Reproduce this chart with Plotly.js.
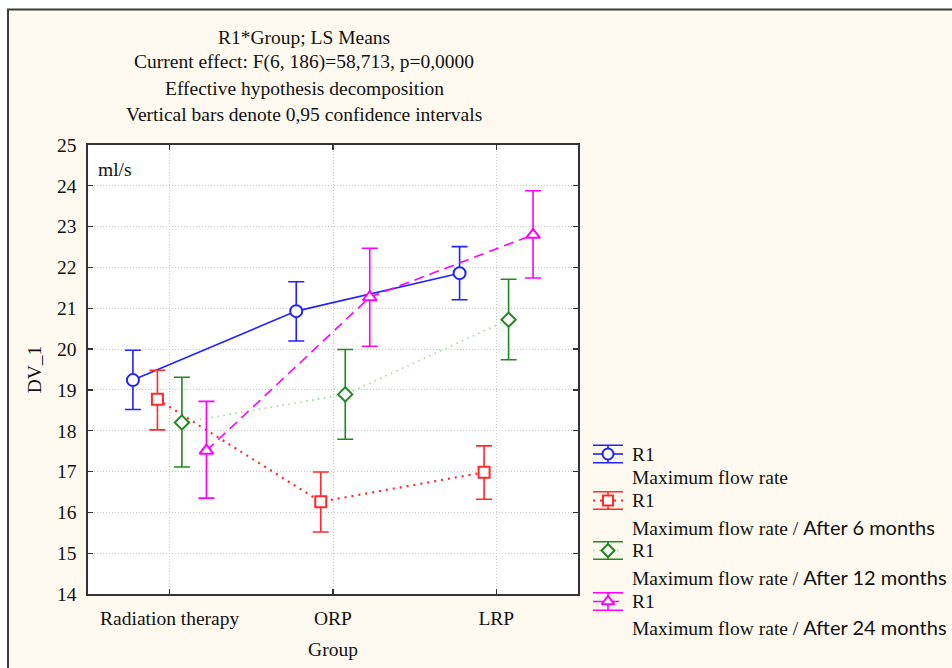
<!DOCTYPE html>
<html>
<head>
<meta charset="utf-8">
<script src="https://cdn.plot.ly/plotly-3.0.1.min.js"></script>
<style>
  html, body { margin: 0; padding: 0; background: #ffffff; }
  #chart { width: 952px; height: 668px; }
</style>
</head>
<body>
<div id="chart"></div>
<script>
// Groups on the x axis
const groups = ['Radiation therapy', 'ORP', 'LRP'];

// LS means with 0,95 confidence limits (ml/s)
const flowMean = [19.24, 20.93, 21.86];
const flowLow  = [18.52, 20.20, 21.21];
const flowHigh = [19.97, 21.65, 22.51];

const m6Mean = [18.77, 16.26, 16.98];
const m6Low  = [18.02, 15.52, 16.32];
const m6High = [19.48, 16.99, 17.63];

const m12Mean = [18.20, 18.89, 20.72];
const m12Low  = [17.11, 17.79, 19.74];
const m12High = [19.31, 19.99, 21.71];

const m24Mean = [17.51, 21.27, 22.80];
const m24Low  = [16.35, 20.07, 21.74];
const m24High = [18.72, 22.47, 23.88];

const seriesNames = [
  'Maximum flow rate',
  'Maximum flow rate / After 6 months',
  'Maximum flow rate / After 12 months',
  'Maximum flow rate / After 24 months'
];
const yTicks = [14, 15, 16, 17, 18, 19, 20, 21, 22, 23, 24, 25];

// ---- styling ----
const W = 952, H = 668;
const serif = 'Liberation Serif, Times New Roman, serif';
const sans = 'Lato, Open Sans, sans-serif';
const FS = 19.5;
const px = v => v / W;
const py = v => 1 - v / H;

const series = [
  { mean: flowMean, low: flowLow, high: flowHigh, color: '#2222ff', lineColor: '#2222ff',
    dash: 'solid', lw: 1.6, symbol: 'circle', size: 12, offset: -0.225 },
  { mean: m6Mean, low: m6Low, high: m6High, color: '#ff2a2a', lineColor: '#ff2a2a',
    dash: '2px,5px', lw: 2.2, symbol: 'square', size: 11, offset: -0.075 },
  { mean: m12Mean, low: m12Low, high: m12High, color: '#1f8a1f', lineColor: '#9fd69f',
    dash: '1.5px,4.5px', lw: 1.6, symbol: 'diamond', size: 11, offset: 0.075 },
  { mean: m24Mean, low: m24Low, high: m24High, color: '#ff00ff', lineColor: '#ff00ff',
    dash: '10px,6px', lw: 1.6, symbol: 'triangle-up', size: 12, offset: 0.225 }
];

const traces = [];
series.forEach((s, k) => {
  traces.push({
    type: 'scatter',
    mode: 'lines+markers',
    name: seriesNames[k],
    x: groups.map((g, i) => i + s.offset),
    y: s.mean,
    line: { color: s.lineColor, width: s.lw, dash: s.dash },
    marker: { symbol: s.symbol, size: s.size, color: '#ffffff',
              line: { color: s.color, width: 2 } },
    error_y: {
      type: 'data', symmetric: false,
      array: s.mean.map((m, i) => s.high[i] - m),
      arrayminus: s.mean.map((m, i) => m - s.low[i]),
      color: s.color, thickness: 1.6, width: 8
    },
    showlegend: false,
    hoverinfo: 'x+y'
  });
});

// ---- legend keys drawn on a pixel-scaled helper axis ----
const keyY = [454, 500.5, 550.5, 601.5];
series.forEach((s, k) => {
  traces.push({
    type: 'scatter', mode: 'lines', xaxis: 'x2', yaxis: 'y2',
    x: [593, 623], y: [keyY[k], keyY[k]],
    line: { color: s.lineColor, width: s.lw, dash: s.dash },
    showlegend: false, hoverinfo: 'skip'
  });
  traces.push({
    type: 'scatter', mode: 'markers', xaxis: 'x2', yaxis: 'y2',
    x: [608], y: [keyY[k]],
    marker: { symbol: s.symbol, size: s.size - 1, color: '#ffffff',
              line: { color: s.color, width: 2 } },
    error_y: { type: 'constant', value: 8.7, color: s.color, thickness: 1.6, width: 15 },
    showlegend: false, hoverinfo: 'skip'
  });
});

const annotations = [];
const titleLines = [
  'Current effect: F(6, 186)=58,713, p=0,0000',
  'Effective hypothesis decomposition',
  'Vertical bars denote 0,95 confidence intervals'
];
const titleY = [62, 88, 115];
titleLines.forEach((t, i) => {
  annotations.push({
    text: t, xref: 'paper', yref: 'paper', x: px(304), y: py(titleY[i]),
    xanchor: 'center', yanchor: 'middle', showarrow: false,
    font: { family: serif, size: FS, color: '#111111' }
  });
});
annotations.push({
  text: 'ml/s', xref: 'paper', yref: 'paper', x: px(96), y: py(170),
  xanchor: 'left', yanchor: 'middle', showarrow: false,
  font: { family: serif, size: FS, color: '#111111' }
});

// legend captions
const capY = [[454, 477], [500.5, 526.5], [550.5, 576.5], [601.5, 627]];
const suffix = ['', 'After 6 months', 'After 12 months', 'After 24 months'];
capY.forEach((yy, k) => {
  annotations.push({
    text: 'R1', xref: 'paper', yref: 'paper', x: px(630), y: py(yy[0]),
    xanchor: 'left', yanchor: 'middle', showarrow: false,
    font: { family: serif, size: FS, color: '#111111' }
  });
  let cap = 'Maximum flow rate';
  if (suffix[k]) {
    cap += ' / <span style="font-family:' + sans + ';font-size:20px">' + suffix[k] + '</span>';
  }
  annotations.push({
    text: cap, xref: 'paper', yref: 'paper', x: px(630), y: py(yy[1]),
    xanchor: 'left', yanchor: 'middle', showarrow: false,
    font: { family: serif, size: FS, color: '#111111' }
  });
});

const axisCommon = {
  showline: true, linecolor: '#333333', linewidth: 1.6, mirror: 'ticks',
  ticks: 'inside', ticklen: 5, tickwidth: 1.2, tickcolor: '#333333',
  showgrid: true, gridcolor: '#c8c8c8', gridwidth: 1, griddash: '1px,2px',
  zeroline: false, fixedrange: true, ticklabelstandoff: 6,
  tickfont: { family: serif, size: FS, color: '#111111' }
};

const layout = {
  width: W, height: H,
  margin: { l: 0, r: 0, t: 0, b: 0, pad: 0 },
  paper_bgcolor: '#ffffff',
  plot_bgcolor: '#ffffff',
  showlegend: false,
  title: {
    text: 'R1*Group; LS Means',
    xref: 'paper', yref: 'paper', x: px(304), y: py(37),
    xanchor: 'center', yanchor: 'middle',
    font: { family: serif, size: FS, color: '#111111' }
  },
  xaxis: Object.assign({}, axisCommon, {
    domain: [px(88), px(578)],
    range: [-0.5, 2.5],
    tickvals: groups.map((g, i) => i),
    ticktext: groups,
    title: { text: 'Group', font: { family: serif, size: FS, color: '#111111' }, standoff: 14 }
  }),
  yaxis: Object.assign({}, axisCommon, {
    domain: [1 - 594 / H, 1 - 145 / H],
    range: [14, 25],
    tickvals: yTicks,
    title: { text: 'DV_1', font: { family: serif, size: FS, color: '#111111' }, standoff: 10 }
  }),
  xaxis2: { domain: [px(585), 1], range: [585, 952], visible: false, anchor: 'y2', fixedrange: true },
  yaxis2: { domain: [0, 1 - 420 / H], range: [668, 420], visible: false, anchor: 'x2', fixedrange: true },
  shapes: [
    { type: 'rect', xref: 'paper', yref: 'paper', layer: 'below',
      x0: px(8), x1: 1.02, y0: -0.02, y1: py(9.5),
      fillcolor: '#fffaf0', line: { color: '#3c3c3c', width: 2 } },
    { type: 'rect', xref: 'paper', yref: 'paper', layer: 'below',
      x0: px(88), x1: px(578), y0: py(594), y1: py(145),
      fillcolor: '#ffffff', line: { width: 0 } }
  ],
  annotations: annotations
};

Plotly.newPlot('chart', traces, layout, { displayModeBar: false, staticPlot: true });
</script>
</body>
</html>
